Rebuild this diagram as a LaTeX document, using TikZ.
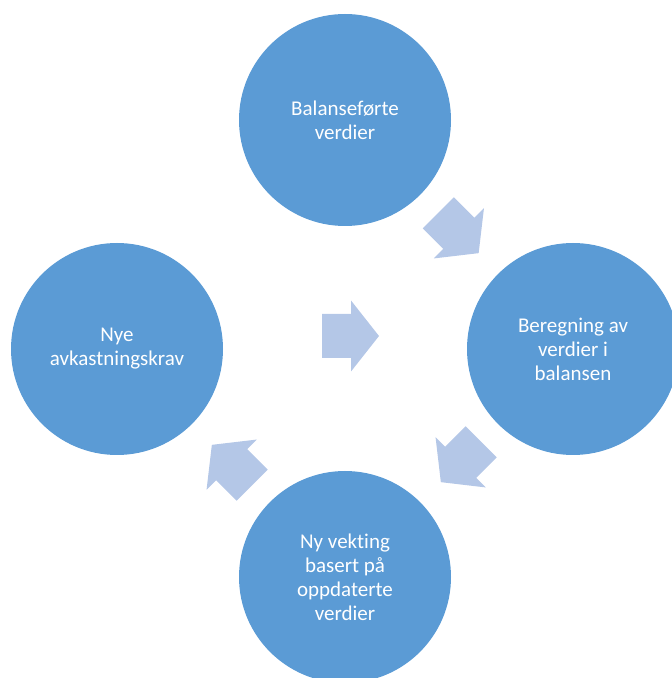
\documentclass[tikz,border=0pt]{standalone}
\usepackage{fontspec}
\setmainfont{Carlito}[Ligatures=CommonOff]
\definecolor{circblue}{HTML}{5B9BD5}
\definecolor{arrowblue}{HTML}{B4C7E7}
\tikzset{
  cyclenode/.style={circle, fill=circblue, minimum size=212pt, inner sep=0pt,
    text=white, align=center, font=\fontsize{21pt}{24pt}\selectfont},
  flowarrow/.pic={
    \fill[arrowblue] (-28.5pt,-22pt) -- (0.5pt,-22pt) -- (0.5pt,-35.5pt) -- (28.5pt,0pt)
      -- (0.5pt,35.5pt) -- (0.5pt,22pt) -- (-28.5pt,22pt) -- cycle;
  }
}
\begin{document}
\begin{tikzpicture}[x=1pt,y=1pt]
\useasboundingbox (0,0) rectangle (672,678);
\clip (0,0) rectangle (672,678);
\node[cyclenode] (top) at (345,558) {Balanseførte\\verdier};
\node[cyclenode] (right) at (573,329) {Beregning av\\verdier i\\balansen};
\node[cyclenode] (bottom) at (345,101) {Ny vekting\\basert på\\oppdaterte\\verdier};
\node[cyclenode] (left) at (117,329) {Nye\\avkastningskrav};
\pic[rotate=-45] (a1) at (458.5,445) {flowarrow};
\pic[rotate=-135] (a2) at (461,216) {flowarrow};
\pic[rotate=135] (a3) at (232,213) {flowarrow};
\pic (a4) at (350.5,342) {flowarrow};
\end{tikzpicture}
\end{document}
